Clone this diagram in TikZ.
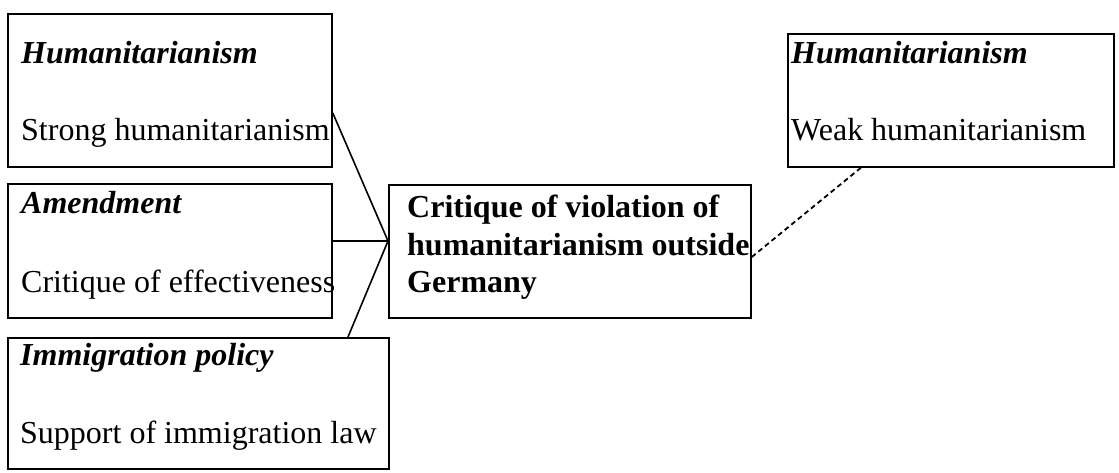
\documentclass[tikz,border=0pt]{standalone}
\usepackage{fontspec}
\setmainfont{Liberation Serif}
\begin{document}
\begin{tikzpicture}[x=1pt,y=-1pt,
  frame/.style={draw,line width=1.8pt,rectangle,anchor=north west,inner sep=0pt},
  label/.style={anchor=base west,inner sep=0pt,font=\fontsize{32}{38}\selectfont},
  head/.style={label,font=\fontsize{32}{38}\selectfont\bfseries\itshape},
  link/.style={line width=1.6pt},
  weak/.style={line width=1.8pt,dash pattern=on 5pt off 3.5pt}]
\useasboundingbox (0,0) rectangle (1119,472);

% boxes
\node[frame,minimum width=324pt,minimum height=153pt] (hum) at (7,13) {};
\node[frame,minimum width=324pt,minimum height=134pt] (amd) at (7,183) {};
\node[frame,minimum width=381pt,minimum height=131pt] (imm) at (7,337) {};
\node[frame,minimum width=362pt,minimum height=133pt] (crit) at (388,184) {};
\node[frame,minimum width=326pt,minimum height=133pt] (weakhum) at (787,33) {};

% texts
\node[head] (t1) at (21,63) {Humanitarianism};
\node[label] (t2) at (21,140) {Strong humanitarianism};
\node[head] (t3) at (21,213) {Amendment};
\node[label] (t4) at (21,292) {Critique of effectiveness};
\node[head] (t5) at (20,365) {Immigration policy};
\node[label] (t6) at (20,443) {Support of immigration law};
\node[head] (t7) at (791,63) {Humanitarianism};
\node[label] (t8) at (791,140) {Weak humanitarianism};
\node[label,font=\fontsize{32}{38}\selectfont\bfseries] (c1) at (407,217) {Critique of violation of};
\node[label,font=\fontsize{32}{38}\selectfont\bfseries] (c2) at (407,255) {humanitarianism outside};
\node[label,font=\fontsize{32}{38}\selectfont\bfseries] (c3) at (407,292) {Germany};

% connector end points
\coordinate (hub) at (crit.west |- 0,241);
\coordinate (humout) at (hum.east |- 0,113);
\coordinate (amdout) at (amd.east |- 0,241);
\coordinate (immout) at (348,337);
\coordinate (critout) at (crit.east |- 0,257);
\coordinate (weakin) at (863,166);

\draw[link] (humout) -- (hub);
\draw[link] (amdout) -- (hub);
\draw[link] (immout) -- (hub);
\draw[weak] (critout) -- (weakin);
\end{tikzpicture}
\end{document}
